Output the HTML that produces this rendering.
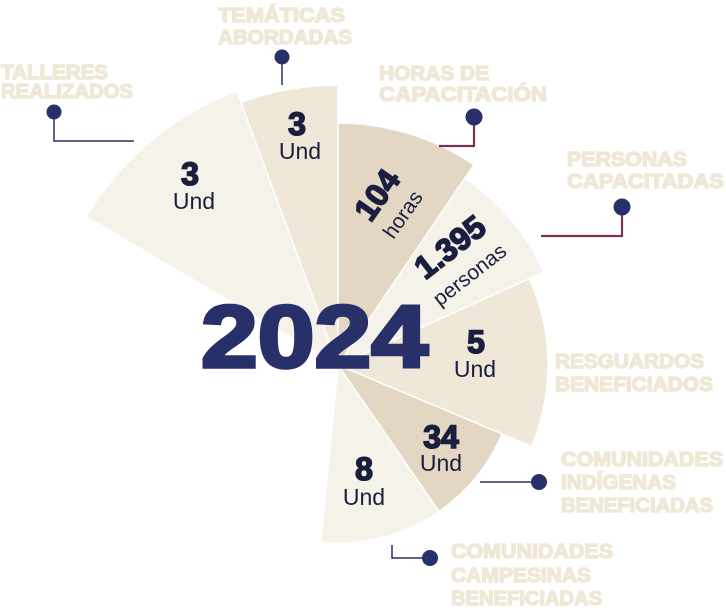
<!DOCTYPE html>
<html><head><meta charset="utf-8"><style>
html,body{margin:0;padding:0;background:#fff;}
svg{display:block;}
.lab{font-family:"Liberation Sans",sans-serif;font-weight:bold;fill:#efe8d6;stroke:#efe8d6;stroke-width:1.4;font-size:20px;}
.num{font-family:"Liberation Sans",sans-serif;font-weight:bold;fill:#1b1e3f;stroke:#1b1e3f;stroke-width:1.6;font-size:32px;}
.und{font-family:"Liberation Sans",sans-serif;fill:#1b1e3f;font-size:23px;}
</style></head><body>
<svg width="726" height="611" viewBox="0 0 726 611" xmlns="http://www.w3.org/2000/svg">
<g id="wedges" stroke="#fff" stroke-width="1.5"></g>
<script>
(function(){
var cx=338,cy=365;
var w=[[-59.5,-20.3,292,'#f5f2e9'],[-20.3,0,280,'#efe8d8'],[0,34.2,242,'#e3d6c2'],[34.2,65.7,226,'#f5f2e9'],[65.7,112.8,210,'#efe8d8'],[112.8,145.4,178,'#e3d6c2'],[145.4,185.5,178,'#f5f2e9']];
var g=document.getElementById('wedges');
function pt(a,r){var t=a*Math.PI/180;return [cx+r*Math.sin(t),cy-r*Math.cos(t)];}
w.forEach(function(s){var p1=pt(s[0],s[2]),p2=pt(s[1],s[2]);
var p=document.createElementNS('http://www.w3.org/2000/svg','path');
p.setAttribute('d','M'+cx+' '+cy+'L'+p1[0]+' '+p1[1]+'A'+s[2]+' '+s[2]+' 0 0 1 '+p2[0]+' '+p2[1]+'Z');
p.setAttribute('fill',s[3]);g.appendChild(p);});
})();
</script>
<g stroke="#283069" stroke-width="1.5" fill="none">
<path d="M54 112V141H134"/>
<path d="M282 57V85"/>
<path d="M392 545V558H430"/>
<path d="M480 482H539"/>
</g>
<g stroke="#7a3358" stroke-width="2.2" fill="none">
<path d="M474 117V146H439"/>
<path d="M622 207V236H541"/>
</g>
<g fill="#283069">
<circle cx="54" cy="112" r="7.5"/><circle cx="282" cy="57" r="7.5"/>
<circle cx="474" cy="117" r="8.5"/><circle cx="622" cy="207" r="8.5"/>
<circle cx="539" cy="482" r="8"/><circle cx="430" cy="558" r="8"/>
</g>
<g lengthAdjust="spacingAndGlyphs">
<text class="lab" x="1" y="79" textLength="107" lengthAdjust="spacingAndGlyphs">TALLERES</text><text class="lab" x="1" y="98" textLength="132" lengthAdjust="spacingAndGlyphs">REALIZADOS</text>
<text class="lab" x="218" y="22" textLength="127" lengthAdjust="spacingAndGlyphs">TEMÁTICAS</text><text class="lab" x="218" y="44" textLength="134" lengthAdjust="spacingAndGlyphs">ABORDADAS</text>
<text class="lab" x="379" y="80" textLength="110" lengthAdjust="spacingAndGlyphs">HORAS DE</text><text class="lab" x="379" y="101" textLength="168" lengthAdjust="spacingAndGlyphs">CAPACITACIÓN</text>
<text class="lab" x="567" y="166" textLength="120" lengthAdjust="spacingAndGlyphs">PERSONAS</text><text class="lab" x="567" y="188" textLength="157" lengthAdjust="spacingAndGlyphs">CAPACITADAS</text>
<text class="lab" x="555" y="368" textLength="149" lengthAdjust="spacingAndGlyphs">RESGUARDOS</text><text class="lab" x="555" y="391" textLength="158" lengthAdjust="spacingAndGlyphs">BENEFICIADOS</text>
<text class="lab" x="561" y="466" textLength="162" lengthAdjust="spacingAndGlyphs">COMUNIDADES</text><text class="lab" x="561" y="489" textLength="115" lengthAdjust="spacingAndGlyphs">INDÍGENAS</text><text class="lab" x="561" y="512" textLength="152" lengthAdjust="spacingAndGlyphs">BENEFICIADAS</text>
<text class="lab" x="451" y="558" textLength="162" lengthAdjust="spacingAndGlyphs">COMUNIDADES</text><text class="lab" x="451" y="582" textLength="140" lengthAdjust="spacingAndGlyphs">CAMPESINAS</text><text class="lab" x="451" y="605" textLength="151" lengthAdjust="spacingAndGlyphs">BENEFICIADAS</text>
</g>
<g text-anchor="middle">
<text class="num" x="190" y="185">3</text><text class="und" x="194" y="209">Und</text>
<text class="num" x="297" y="135">3</text><text class="und" x="300" y="159">Und</text>
<text class="num" x="476" y="353">5</text><text class="und" x="475" y="377">Und</text>
<text class="num" x="441" y="448">34</text><text class="und" x="441" y="471">Und</text>
<text class="num" x="364" y="480">8</text><text class="und" x="364" y="505">Und</text>
<g transform="translate(377,195) rotate(-55)"><text class="num" x="0" y="11">104</text></g>
<g transform="translate(402,214) rotate(-55)"><text class="und" x="0" y="8" style="font-size:21px">horas</text></g>
<g transform="translate(450,247) rotate(-38)"><text class="num" x="0" y="11">1.395</text></g>
<g transform="translate(469,274) rotate(-38)"><text class="und" x="0" y="8" style="font-size:21px">personas</text></g>
</g>
<text x="201" y="367" textLength="227" lengthAdjust="spacingAndGlyphs" style="font-family:'Liberation Sans',sans-serif;font-weight:bold;font-size:88px;fill:#283069;stroke:#283069;stroke-width:3.5;">2024</text>
</svg>
</body></html>
